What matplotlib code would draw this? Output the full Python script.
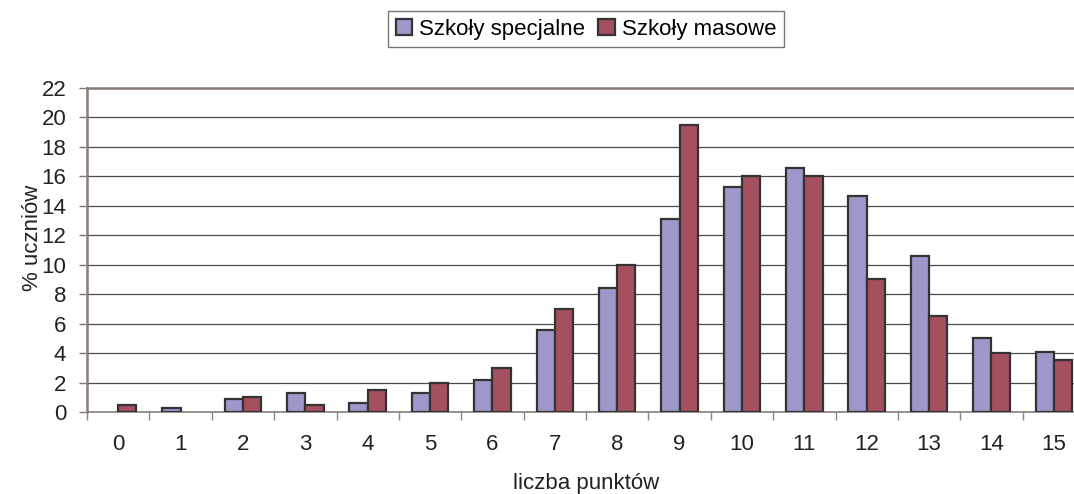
import matplotlib

matplotlib.use("Agg")
import matplotlib.pyplot as plt
import numpy as np
from matplotlib.patches import Patch
from matplotlib.ticker import FixedLocator, MultipleLocator

points = list(range(16))
special = [0.0, 0.3, 0.9, 1.3, 0.6, 1.3, 2.2, 5.6, 8.4, 13.1, 15.3, 16.6, 14.7, 10.6, 5.0, 4.1]
mass = [0.5, 0.0, 1.0, 0.5, 1.5, 2.0, 3.0, 7.0, 10.0, 19.5, 16.0, 16.0, 9.0, 6.5, 4.0, 3.5]
series_names = ["Szkoły specjalne", "Szkoły masowe"]

plt.rcParams["font.family"] = ["Liberation Sans", "DejaVu Sans"]
FS = 16
TXT = "#222222"
EDGE = "#333333"
colors = ["#9d98c9", "#a5505e"]

fig = plt.figure(figsize=(10.74, 4.94), dpi=100)
# plot area runs slightly past the right edge, as in the source image
ax = fig.add_axes([87 / 1074, 82 / 494, 998 / 1074, 324 / 494])

x = np.arange(len(points))
w = 0.293
bars_s = ax.bar(x - w / 2, special, width=w, color=colors[0], edgecolor=EDGE, linewidth=1.6, zorder=3)
bars_m = ax.bar(x + w / 2, mass, width=w, color=colors[1], edgecolor=EDGE, linewidth=1.6, zorder=3)
# empty categories show no bar at all
for b in list(bars_s) + list(bars_m):
    if b.get_height() == 0:
        b.set_visible(False)

ax.set_xlim(-0.5, len(points) - 0.5)
ax.set_ylim(0, 22)
ax.yaxis.set_major_locator(MultipleLocator(2))
ax.grid(axis="y", color="#4a4a4a", linewidth=0.9, zorder=0)

ax.set_xticks(x)
ax.set_xticklabels([str(p) for p in points])
ax.xaxis.set_minor_locator(FixedLocator(np.arange(-0.5, len(points), 1.0)))
ax.tick_params(axis="x", which="major", length=0, pad=16, labelsize=FS, colors=TXT)
ax.tick_params(axis="x", which="minor", length=6, width=1, color="#888888")
ax.tick_params(axis="y", length=6, width=1, color="#777777", labelsize=FS,
               labelcolor=TXT, pad=9)

for side in ["left", "top"]:
    ax.spines[side].set_color("#8a7d78")
    ax.spines[side].set_linewidth(1.8)
ax.spines["bottom"].set_color("#8a8080")
ax.spines["bottom"].set_linewidth(1.2)
ax.spines["right"].set_visible(False)

fig.text(586 / 1074, 1 - 483 / 494, "liczba punktów", fontsize=FS, color=TXT, ha="center", va="center")
fig.text(32 / 1074, 1 - 238 / 494, "% uczniów", fontsize=FS, color=TXT, ha="center", va="center",
         rotation=90)

handles = [Patch(facecolor=c, edgecolor=EDGE, linewidth=1.6) for c in colors]
leg = fig.legend(handles, series_names, loc="center", bbox_to_anchor=(586 / 1074, 1 - 29 / 494),
                 ncol=2, fontsize=FS, frameon=True, fancybox=False, edgecolor="#555555",
                 handlelength=0.75, handleheight=0.75, handletextpad=0.3,
                 columnspacing=0.6, borderpad=0.35, borderaxespad=0)
leg.get_frame().set_linewidth(1.0)

fig.savefig("out.png", dpi=100)
